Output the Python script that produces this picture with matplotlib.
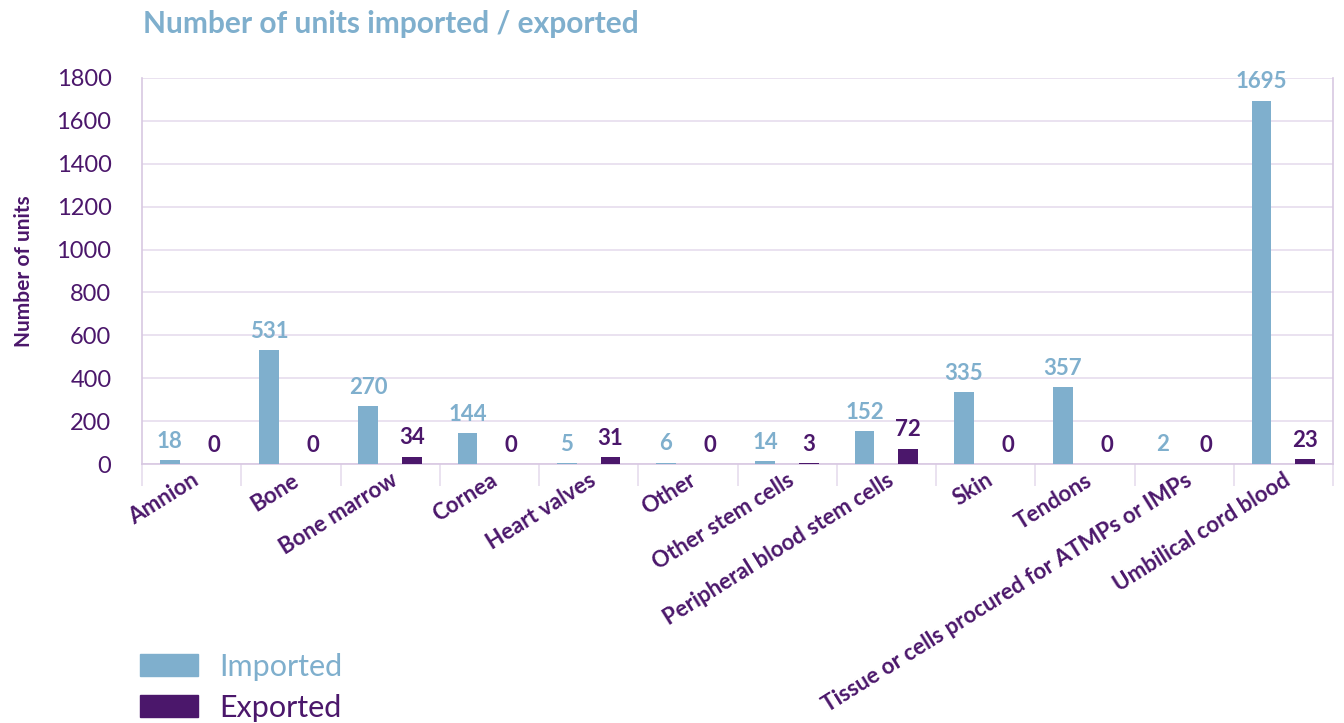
import numpy as np
import matplotlib
matplotlib.use('Agg')
import matplotlib.pyplot as plt
from matplotlib.patches import Patch

plt.rcParams['font.family'] = ['Lato', 'DejaVu Sans']

categories = ['Amnion', 'Bone', 'Bone marrow', 'Cornea', 'Heart valves', 'Other',
              'Other stem cells', 'Peripheral blood stem cells', 'Skin', 'Tendons',
              'Tissue or cells procured for ATMPs or IMPs', 'Umbilical cord blood']
imported = [18, 531, 270, 144, 5, 6, 14, 152, 335, 357, 2, 1695]
exported = [0, 0, 34, 0, 31, 0, 3, 72, 0, 0, 0, 23]
yticks = [0, 200, 400, 600, 800, 1000, 1200, 1400, 1600, 1800]

C_IMP = '#7FAFCD'
C_EXP = '#4B176B'
C_GRID = '#E6DDED'
C_SPINE = '#D8C8E2'

fig = plt.figure(figsize=(13.44, 7.23), dpi=100)
ax = fig.add_axes([142 / 1344, 1 - 464 / 723, (1333 - 142) / 1344, (464 - 78) / 723])

x = np.arange(len(categories))
w = 0.2
off = 0.22
b1 = ax.bar(x - off, imported, w, color=C_IMP, zorder=3)
b2 = ax.bar(x + off, exported, w, color=C_EXP, zorder=3)

for bars, vals, col in [(b1, imported, C_IMP), (b2, exported, C_EXP)]:
    for r, v in zip(bars, vals):
        ax.annotate(str(v), (r.get_x() + r.get_width() / 2, v), xytext=(0, 6),
                    textcoords='offset points', ha='center', va='bottom',
                    fontsize=16, fontweight='bold', color=col)

ax.set_xlim(-0.5, len(categories) - 0.5)
ax.set_ylim(0, 1800)
ax.set_yticks(yticks)
ax.set_yticklabels([str(t) for t in yticks], fontsize=17, color=C_EXP)
ax.tick_params(axis='y', length=0, pad=22)
ax.grid(axis='y', color=C_GRID, linewidth=1.2, zorder=0)

ax.set_xticks(x)
ax.set_xticklabels(categories, rotation=32, ha='right', rotation_mode='anchor',
                   fontsize=16, fontweight='bold', color=C_EXP)
ax.tick_params(axis='x', length=0, pad=4)
ax.set_xticks(np.arange(-0.5, len(categories), 1), minor=True)
ax.tick_params(axis='x', which='minor', length=16, color=C_GRID, width=1.2)

for s in ['left', 'right', 'bottom']:
    ax.spines[s].set_color(C_SPINE)
    ax.spines[s].set_linewidth(1.2)
ax.spines['top'].set_visible(False)

ax.set_ylabel('Number of units', fontsize=15, fontweight='bold', color=C_EXP)
ax.yaxis.set_label_coords(-0.091, 0.5)

fig.text(143 / 1344, 1 - 24 / 723, 'Number of units imported / exported', fontsize=21.5,
         fontweight='bold', color=C_IMP, va='center', ha='left')

handles = [Patch(color=C_IMP), Patch(color=C_EXP)]
leg = fig.legend(handles, ['Imported', 'Exported'], loc='lower left',
                 bbox_to_anchor=(140 / 1344, 0.002), frameon=False, fontsize=22,
                 borderpad=0, borderaxespad=0,
                 handlelength=1.9, handleheight=0.72, handletextpad=0.7, labelspacing=0.42)
for t, c in zip(leg.get_texts(), [C_IMP, C_EXP]):
    t.set_color(c)

fig.savefig('out.png', dpi=100)
